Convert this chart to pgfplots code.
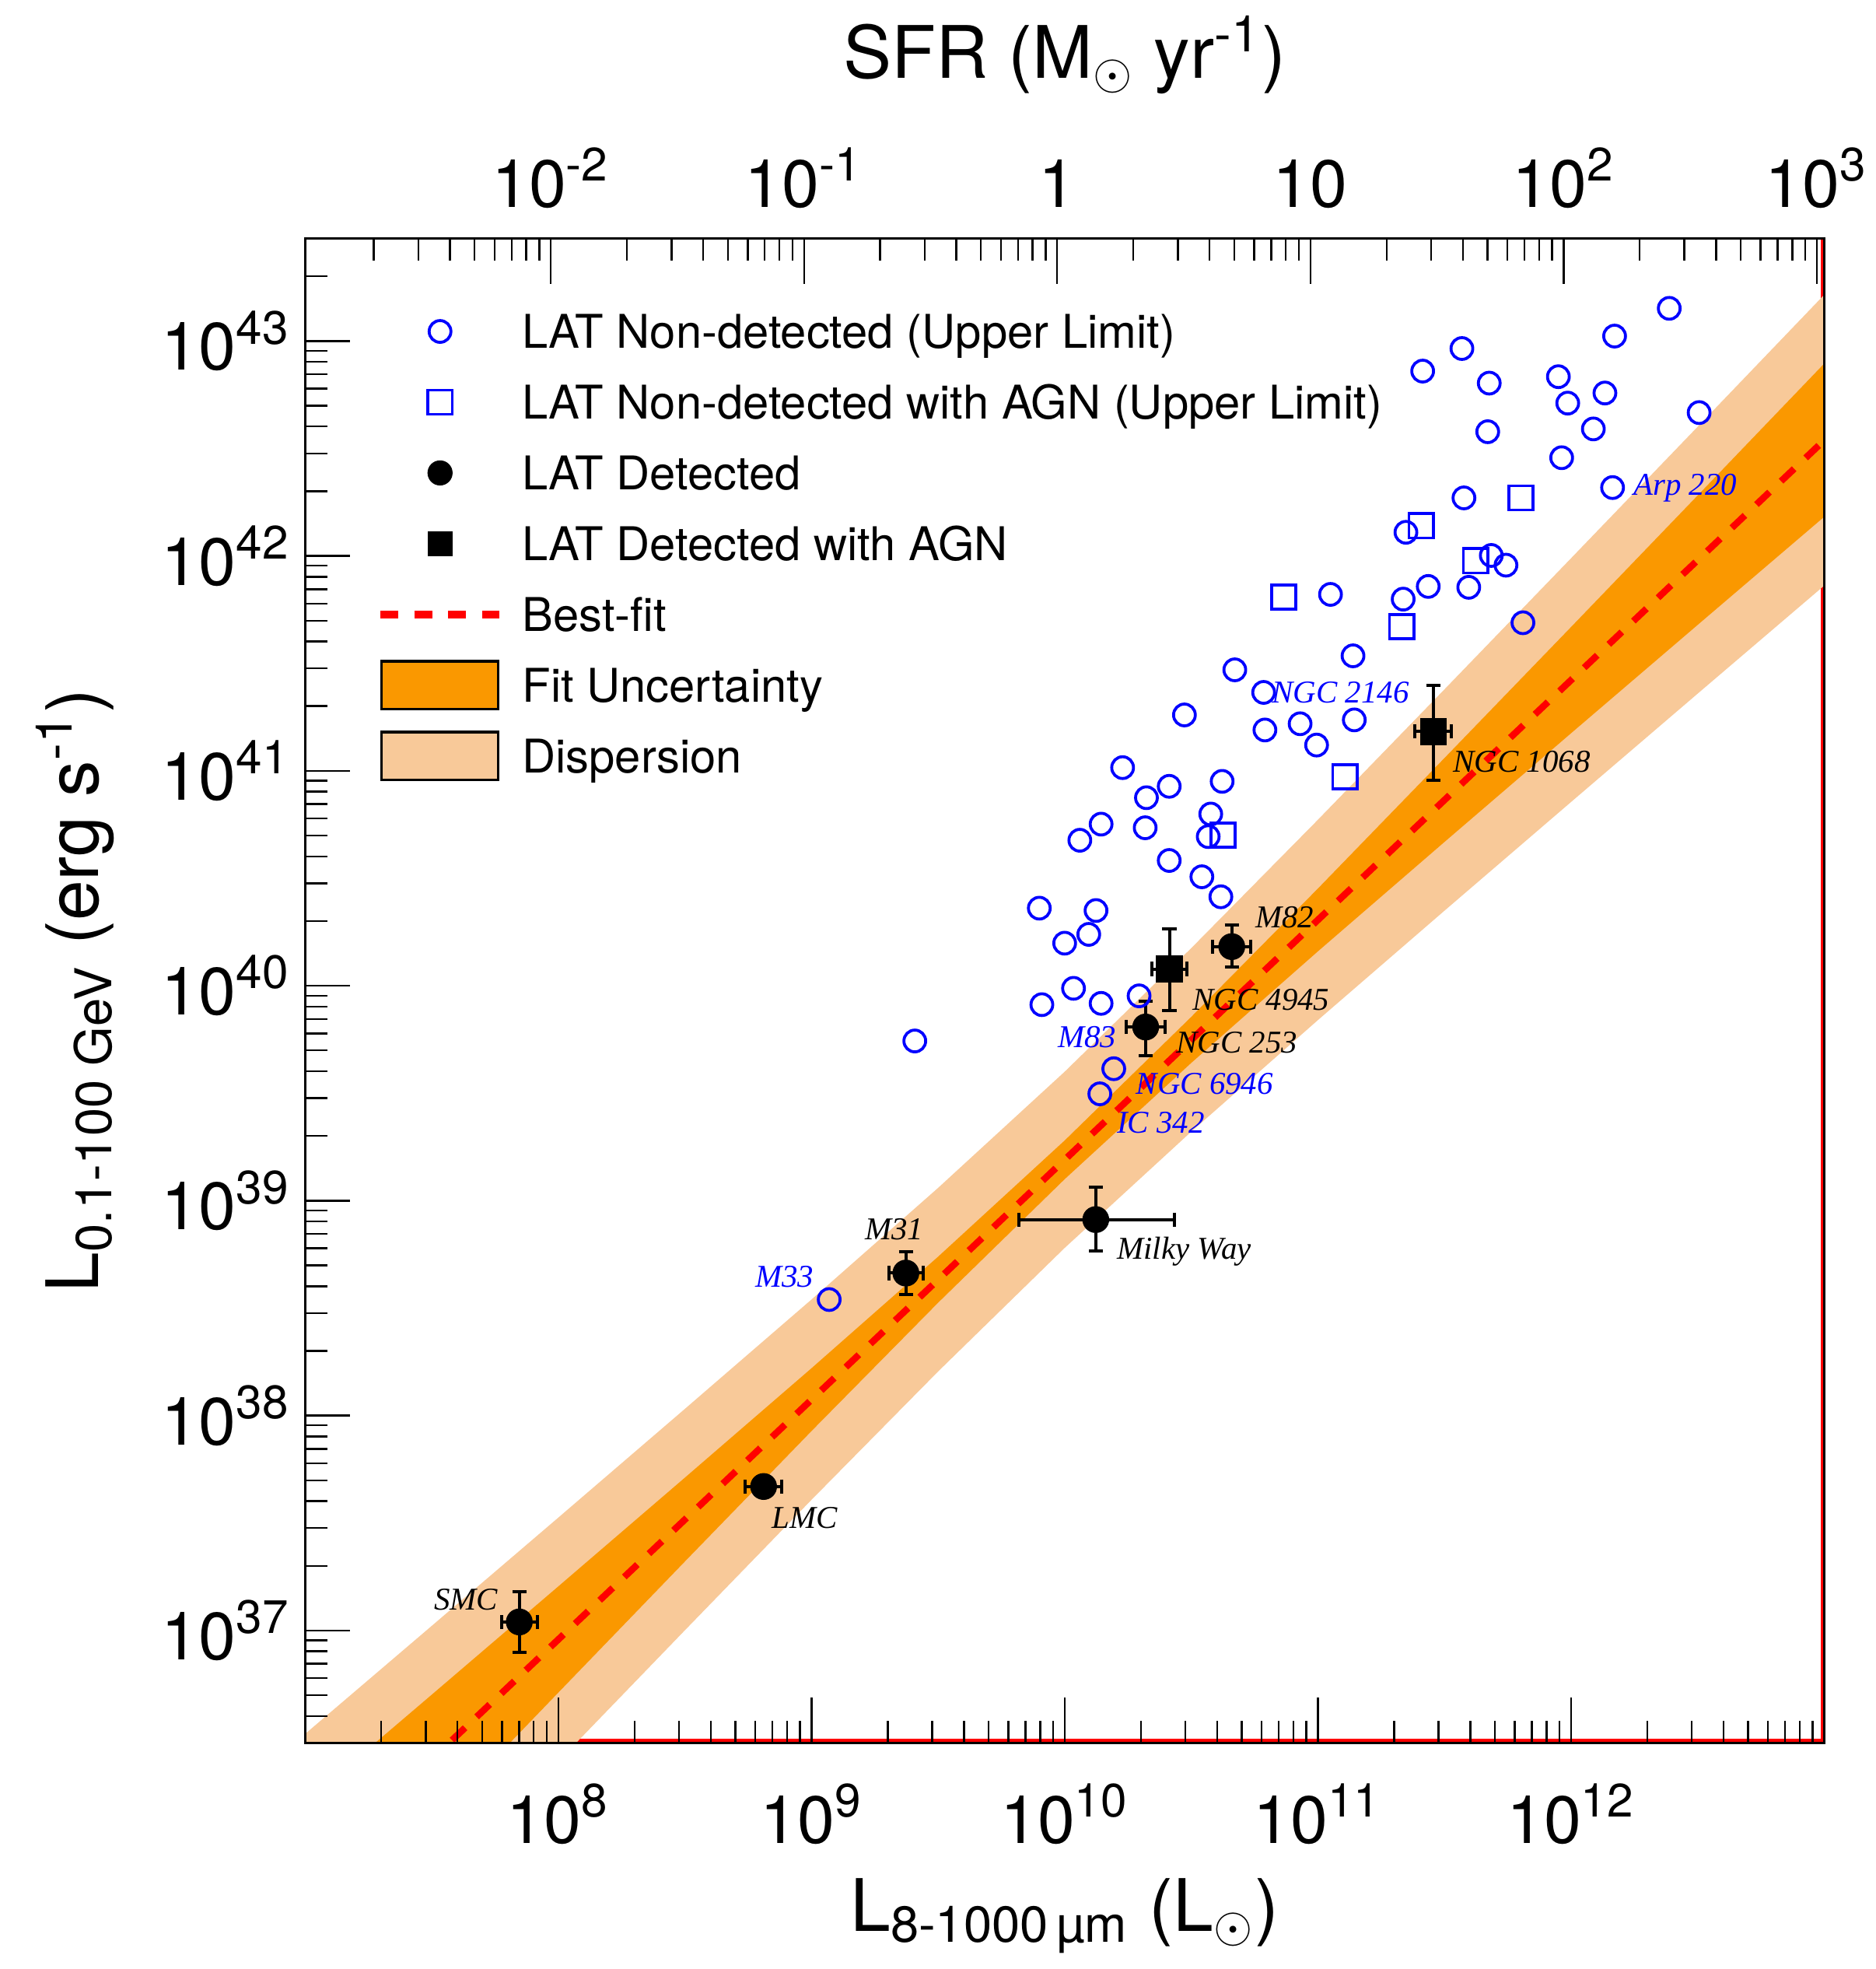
\documentclass[border=0pt]{standalone}
\usepackage{fontspec}
\setmainfont{TeX Gyre Heros}
\newfontfamily\timesf{Liberation Serif}
\usepackage{pgfplots}
\pgfplotsset{compat=1.18}
\definecolor{bandDark}{RGB}{250,152,0}
\definecolor{bandLight}{RGB}{248,201,153}
\tikzset{
  galk/.style={inner sep=0pt, anchor=west, text=black, font=\timesf\itshape\fontsize{7.6}{9}\selectfont},
  galb/.style={inner sep=0pt, anchor=west, text=blue, font=\timesf\itshape\fontsize{7.6}{9}\selectfont},
}
\begin{document}
\begin{tikzpicture}
\begin{axis}[
  scale only axis, width=363pt, height=359.4pt,
  xmode=log, ymode=log,
  xmin=1e7, xmax=1e13, ymin=3e36, ymax=3e43,
  axis on top,
  tick align=inside,
  xtick pos=left, ytick pos=left,
  major tick length=10.8pt, minor tick length=5.3pt,
  every tick/.append style={black, line width=0.45pt},
  axis line style={line width=0.6pt},
  xtick={1e8,1e9,1e10,1e11,1e12},
  xticklabels={10\textsuperscript{8},10\textsuperscript{9},10\textsuperscript{10},10\textsuperscript{11},10\textsuperscript{12}},
  minor xtick={2e7,3e7,4e7,5e7,6e7,7e7,8e7,9e7,2e8,3e8,4e8,5e8,6e8,7e8,8e8,9e8,2e9,3e9,4e9,5e9,6e9,7e9,8e9,9e9,2e10,3e10,4e10,5e10,6e10,7e10,8e10,9e10,2e11,3e11,4e11,5e11,6e11,7e11,8e11,9e11,2e12,3e12,4e12,5e12,6e12,7e12,8e12,9e12},
  ytick={1e37,1e38,1e39,1e40,1e41,1e42,1e43},
  yticklabels={10\textsuperscript{37},10\textsuperscript{38},10\textsuperscript{39},10\textsuperscript{40},10\textsuperscript{41},10\textsuperscript{42},10\textsuperscript{43}},
  minor ytick={4e36,5e36,6e36,7e36,8e36,9e36,2e37,3e37,4e37,5e37,6e37,7e37,8e37,9e37,2e38,3e38,4e38,5e38,6e38,7e38,8e38,9e38,2e39,3e39,4e39,5e39,6e39,7e39,8e39,9e39,2e40,3e40,4e40,5e40,6e40,7e40,8e40,9e40,2e41,3e41,4e41,5e41,6e41,7e41,8e41,9e41,2e42,3e42,4e42,5e42,6e42,7e42,8e42,9e42,2e43},
  tick label style={font=\fontsize{16}{19}\selectfont},
  xticklabel style={anchor=base, yshift=-24pt},
  xlabel={L\textsubscript{8-1000\,µm} (L$_{\odot}$)},
  xlabel style={at={(axis description cs:0.5,-0.1252)}, anchor=base, font=\fontsize{17.3}{20}\selectfont},
  ylabel={L\textsubscript{0.1-100 GeV} (erg s\textsuperscript{-1})},
  ylabel style={at={(axis description cs:-0.1361,0.5)}, rotate=0, anchor=base, font=\fontsize{17.3}{20}\selectfont},
  legend style={draw=none, fill=none, inner sep=0pt, outer sep=0pt, row sep=0pt,
    at={(0.0471,0.9617)}, anchor=north west,
    cells={anchor=west},
    nodes={inner sep=0pt, text height=8pt, text depth=0pt, minimum height=16.9pt, font=\fontsize{11.1}{13}\selectfont},
    /tikz/every odd column/.append style={column sep=4.5pt}},
]
\addlegendimage{legend image code/.code={\path[draw=none,fill=none] (0pt,-5.7pt) rectangle (28.5pt,5.7pt); \draw[blue, fill=none, line width=0.7pt] (14.25pt,0pt) circle[radius=2.6pt];}}
\addlegendentry{LAT Non-detected (Upper Limit)}
\addlegendimage{legend image code/.code={\path[draw=none,fill=none] (0pt,-5.7pt) rectangle (28.5pt,5.7pt); \draw[blue, fill=none, line width=0.7pt] (11.35pt,-2.9pt) rectangle (17.15pt,2.9pt);}}
\addlegendentry{LAT Non-detected with AGN (Upper Limit)}
\addlegendimage{legend image code/.code={\path[draw=none,fill=none] (0pt,-5.7pt) rectangle (28.5pt,5.7pt); \fill[black, draw=none] (14.25pt,0pt) circle[radius=3pt];}}
\addlegendentry{LAT Detected}
\addlegendimage{legend image code/.code={\path[draw=none,fill=none] (0pt,-5.7pt) rectangle (28.5pt,5.7pt); \fill[black, draw=none] (11.25pt,-3pt) rectangle (17.25pt,3pt);}}
\addlegendentry{LAT Detected with AGN}
\addlegendimage{legend image code/.code={\path[draw=none,fill=none] (0pt,-5.7pt) rectangle (28.5pt,5.7pt); \draw[red, fill=none, line width=1.8pt, dash pattern=on 4.3pt off 3.8pt] (0pt,0pt) -- (28.5pt,0pt);}}
\addlegendentry{Best-fit}
\addlegendimage{legend image code/.code={\draw[fill=bandDark, draw=black, line width=0.6pt] (0.3pt,-5.7pt) rectangle (28.2pt,5.7pt);}}
\addlegendentry{Fit Uncertainty}
\addlegendimage{legend image code/.code={\draw[fill=bandLight, draw=black, line width=0.6pt] (0.3pt,-5.7pt) rectangle (28.2pt,5.7pt);}}
\addlegendentry{Dispersion}

% red frame segments (under the bands)
\draw[red, line width=0.9pt] ([yshift=0.45pt]rel axis cs:0,0) -- ([yshift=0.45pt]rel axis cs:1,0);
\draw[red, line width=0.9pt] ([xshift=-0.45pt]rel axis cs:1,0) -- ([xshift=-0.45pt]rel axis cs:1,1);

% Dispersion band
\addplot[fill=bandLight, draw=none, forget plot] coordinates {
(7.943e6,2.618e36) (3.162e7,1.050e37) (1e8,3.350e37) (3.162e8,1.074e38) (1e9,3.467e38) (3.162e9,1.146e39) (1e10,3.981e39) (3.162e10,1.496e40) (1e11,5.916e40) (3.162e11,2.393e41) (1e12,9.750e41) (3.162e12,3.990e42) (1e13,1.641e43) (1.259e13,2.173e43)
(1.259e13,9.162e41) (1e13,7.278e41) (3.162e12,2.286e41) (1e12,7.161e40) (3.162e11,2.234e40) (1e11,6.918e39) (3.162e10,2.094e39) (1e10,6.026e38) (3.162e9,1.603e38) (1e9,4.055e37) (3.162e8,1.002e37) (1e8,2.460e36) (3.162e7,6.012e35) (7.943e6,1.104e35)
};
% Fit uncertainty band
\addplot[fill=bandDark, draw=none, forget plot] coordinates {
(7.943e6,1.253e36) (3.162e7,5.023e36) (1e8,1.603e37) (3.162e8,5.140e37) (1e9,1.660e38) (3.162e9,5.483e38) (1e10,1.905e39) (3.162e10,7.161e39) (1e11,2.831e40) (3.162e11,1.146e41) (1e12,4.666e41) (3.162e12,1.910e42) (1e13,7.852e42) (1.259e13,1.040e43)
(1.259e13,1.914e42) (1e13,1.521e42) (3.162e12,4.775e41) (1e12,1.496e41) (3.162e11,4.666e40) (1e11,1.445e40) (3.162e10,4.375e39) (1e10,1.259e39) (3.162e9,3.350e38) (1e9,8.472e37) (3.162e8,2.094e37) (1e8,5.140e36) (3.162e7,1.256e36) (7.943e6,2.307e35)
};
% Best fit
\addplot[red, line width=1.6pt, dash pattern=on 4.3pt off 3.8pt, forget plot] coordinates {(7.943e6,5.375e35) (1.259e13,4.463e42)};

% LAT non-detected (upper limits)
\addplot[only marks, mark=o, mark size=2.6pt, mark options={blue, line width=0.7pt}, forget plot] coordinates {
(2.443e12,1.419e43) (1.486e12,1.054e43) (3.707e11,9.226e42) (2.594e11,7.244e42) (4.753e11,6.368e42)
(8.913e11,6.823e42) (9.705e11,5.140e42) (1.361e12,5.728e42) (1.225e12,3.899e42) (3.206e12,4.645e42)
(4.688e11,3.784e42) (9.183e11,2.864e42) (1.459e12,2.080e42) (3.776e11,1.862e42) (2.228e11,1.288e42)
(4.842e11,1.005e42) (5.534e11,9.057e41) (2.729e11,7.211e41) (3.945e11,7.145e41) (2.173e11,6.295e41)
(6.457e11,4.887e41) (1.122e11,6.622e41) (1.377e11,3.428e41) (4.699e10,2.951e41) (6.109e10,2.317e41)
(2.972e10,1.820e41) (6.180e10,1.549e41) (8.511e10,1.656e41) (1.393e11,1.726e41) (9.886e10,1.318e41)
(1.694e10,1.035e41) (4.188e10,8.933e40) (2.104e10,7.499e40) (2.588e10,8.472e40) (1.393e10,5.649e40)
(1.148e10,4.753e40) (2.080e10,5.433e40) (3.776e10,6.295e40) (3.690e10,4.943e40) (2.588e10,3.828e40)
(3.483e10,3.214e40) (4.140e10,2.594e40) (7.943e9,2.296e40) (1.330e10,2.239e40) (1.245e10,1.734e40)
(1.000e10,1.578e40) (1.084e10,9.727e39) (8.128e9,8.166e39) (1.393e10,8.279e39) (1.968e10,8.974e39)
(2.559e9,5.534e39) (1.563e10,4.111e39) (1.377e10,3.141e39) (1.175e9,3.467e38)
};
% LAT non-detected with AGN
\addplot[only marks, mark=square, mark size=2.9pt, mark options={blue, line width=0.7pt}, forget plot] coordinates {
(7.345e10,6.442e41) (2.559e11,1.380e42) (6.339e11,1.862e42) (4.198e11,9.484e41)
(2.143e11,4.677e41) (1.279e11,9.397e40) (4.227e10,5.023e40)
};
% LAT detected
\addplot[only marks, black, mark=*, mark size=3pt, forget plot,
  error bars/.cd, x dir=both, x explicit relative, y dir=both, y explicit relative,
  error bar style={line width=0.75pt, black}, error mark options={rotate=90, mark size=1.7pt, line width=0.75pt, black}] coordinates {
(7.015e7,1.096e37) += (0.178,0.380) -= (0.151,0.279)
(6.471e8,4.677e37) += (0.180,0.072) -= (0.153,0.067)
(2.360e9,4.603e38) += (0.169,0.259) -= (0.145,0.206)
(1.327e10,8.166e38) += (1.046,0.413) -= (0.502,0.284)
(2.089e10,6.427e39) += (0.191,0.321) -= (0.161,0.264)
(4.571e10,1.521e40) += (0.191,0.256) -= (0.161,0.198)
};
% LAT detected with AGN
\addplot[only marks, black, mark=square*, mark size=3pt, forget plot,
  error bars/.cd, x dir=both, x explicit relative, y dir=both, y explicit relative,
  error bar style={line width=0.75pt, black}, error mark options={rotate=90, mark size=1.7pt, line width=0.75pt, black}] coordinates {
(2.594e10,1.197e40) += (0.169,0.535) -= (0.145,0.357)
(2.858e11,1.524e41) += (0.180,0.633) -= (0.153,0.407)
};

% galaxy names
\node[galk] at (axis cs:3.404e11,1.107e41) {NGC 1068};
\node[galb] at (axis cs:1.754e12,2.075e42) {Arp 220};
\node[galb] at (axis cs:6.546e10,2.317e41) {NGC 2146};
\node[galk] at (axis cs:5.636e10,2.089e40) {M82};
\node[galk] at (axis cs:3.177e10,8.610e39) {NGC 4945};
\node[galk] at (axis cs:2.742e10,5.458e39) {NGC 253};
\node[galb] at (axis cs:9.333e9,5.754e39) {M83};
\node[galb] at (axis cs:1.901e10,3.499e39) {NGC 6946};
\node[galb] at (axis cs:1.600e10,2.307e39) {IC 342};
\node[galk] at (axis cs:1.600e10,5.781e38) {Milky Way};
\node[galk] at (axis cs:1.618e9,7.362e38) {M31};
\node[galb] at (axis cs:5.970e8,4.416e38) {M33};
\node[galk] at (axis cs:6.934e8,3.342e37) {LMC};
\node[galk] at (axis cs:3.214e7,1.396e37) {SMC};
\end{axis}

\begin{axis}[
  scale only axis, width=363pt, height=359.4pt,
  xmode=log, xmin=1.07e-3, xmax=1070,
  ymin=0, ymax=1, hide y axis,
  axis x line*=top,
  tick align=inside,
  major tick length=10.8pt, minor tick length=5.3pt,
  every tick/.append style={black, line width=0.45pt},
  axis line style={line width=0.6pt},
  xtick={1e-2,1e-1,1,10,100,1000},
  xticklabels={10\textsuperscript{-2},10\textsuperscript{-1},1,10,10\textsuperscript{2},10\textsuperscript{3}},
  minor xtick={2e-3,3e-3,4e-3,5e-3,6e-3,7e-3,8e-3,9e-3,2e-2,3e-2,4e-2,5e-2,6e-2,7e-2,8e-2,9e-2,0.2,0.3,0.4,0.5,0.6,0.7,0.8,0.9,2,3,4,5,6,7,8,9,20,30,40,50,60,70,80,90,200,300,400,500,600,700,800,900},
  tick label style={font=\fontsize{16}{19}\selectfont},
  xticklabel style={anchor=base, yshift=7.5pt},
  xlabel={SFR (M$_{\odot}$ yr\textsuperscript{-1})},
  xlabel style={at={(axis description cs:0.5,1.1068)}, anchor=base, font=\fontsize{17.3}{20}\selectfont},
]
\addplot[draw=none] coordinates {(1,0.5)};
\end{axis}
\pgfresetboundingbox
\path[use as bounding box] ([xshift=-72.9pt,yshift=-54pt]current axis.south west) rectangle ([xshift=12.3pt,yshift=57pt]current axis.north east);
\end{tikzpicture}
\end{document}
